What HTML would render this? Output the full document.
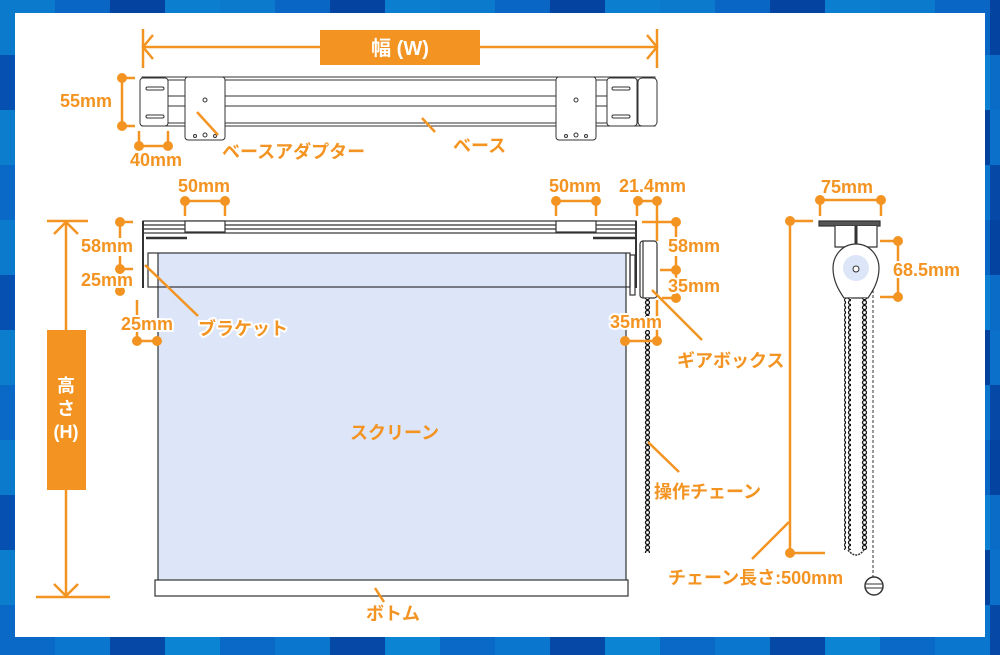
<!DOCTYPE html>
<html><head><meta charset="utf-8"><style>
html,body{margin:0;padding:0;width:1000px;height:655px;overflow:hidden}
svg{display:block}
text{font-family:"Liberation Sans","Noto Sans CJK JP",sans-serif;font-weight:bold;fill:#f39422;font-size:18px;stroke:#fff;stroke-width:4px;paint-order:stroke;stroke-linejoin:round}
</style></head><body>
<svg width="1000" height="655" viewBox="0 0 1000 655" xmlns="http://www.w3.org/2000/svg">
<defs>
<pattern id="tiles" width="220" height="220" patternUnits="userSpaceOnUse">
<rect width="220" height="220" fill="#0a62c2"/>
<rect x="0" y="0" width="55" height="55" fill="#0b79cc"/><rect x="55" y="0" width="55" height="55" fill="#0a66c4"/><rect x="110" y="0" width="55" height="55" fill="#0444a0"/><rect x="165" y="0" width="55" height="55" fill="#0c7ed0"/>
<rect x="0" y="55" width="55" height="55" fill="#0550b0"/><rect x="55" y="55" width="55" height="55" fill="#0c80d2"/><rect x="110" y="55" width="55" height="55" fill="#0b6cc8"/><rect x="165" y="55" width="55" height="55" fill="#03449e"/>
<rect x="0" y="110" width="55" height="55" fill="#0c7ccd"/><rect x="55" y="110" width="55" height="55" fill="#03429c"/><rect x="110" y="110" width="55" height="55" fill="#0a70ca"/><rect x="165" y="110" width="55" height="55" fill="#0a60c0"/>
<rect x="0" y="165" width="55" height="55" fill="#0a68c6"/><rect x="55" y="165" width="55" height="55" fill="#0b76cd"/><rect x="110" y="165" width="55" height="55" fill="#0548a6"/><rect x="165" y="165" width="55" height="55" fill="#0c84d4"/>
</pattern>
<pattern id="chain" width="7" height="5" patternUnits="userSpaceOnUse"><circle cx="3.5" cy="2.5" r="2" fill="#fff" stroke="#111" stroke-width="1.3"/></pattern>
</defs>
<rect width="1000" height="655" fill="url(#tiles)"/>
<rect x="15" y="13" width="970" height="624" fill="#fff"/>

<!-- top rail -->
<g stroke="#333" stroke-width="1" fill="#fff">
<rect x="142" y="77" width="513" height="49"/>
<line x1="142" y1="80" x2="655" y2="80"/><line x1="142" y1="96" x2="655" y2="96"/><line x1="142" y1="106" x2="655" y2="106"/><line x1="142" y1="123" x2="655" y2="123"/>
<rect x="140" y="78" width="28" height="48" rx="3"/>
<rect x="607" y="78" width="30" height="48" rx="3"/>
<rect x="638" y="78" width="19" height="48" rx="4"/>
<rect x="185" y="77" width="40" height="63" rx="3"/>
<rect x="556" y="77" width="40" height="63" rx="3"/>
<circle cx="205" cy="100" r="2"/><circle cx="576" cy="100" r="2"/>
<circle cx="195" cy="136" r="1.5"/><circle cx="205" cy="135" r="2"/><circle cx="215" cy="136" r="1.5"/>
<circle cx="566" cy="136" r="1.5"/><circle cx="576" cy="135" r="2"/><circle cx="586" cy="136" r="1.5"/>
<rect x="146" y="87" width="18" height="3" rx="1.5"/><rect x="146" y="115" width="18" height="3" rx="1.5"/>
<rect x="612" y="87" width="18" height="3" rx="1.5"/><rect x="612" y="115" width="18" height="3" rx="1.5"/>
</g>

<!-- main blind -->
<rect x="158" y="253" width="468" height="327" fill="#dde5f8"/>
<g stroke="#333" stroke-width="1.2" fill="none">
<rect x="143" y="221" width="493" height="12" fill="#fff"/>
<line x1="143" y1="225" x2="636" y2="225"/><line x1="143" y1="229" x2="636" y2="229"/>
<rect x="185" y="221" width="40" height="11" fill="#fff"/><rect x="556" y="221" width="40" height="11" fill="#fff"/>
<line x1="143" y1="221" x2="143" y2="288" stroke-width="2"/>
<line x1="146" y1="238" x2="187" y2="238" stroke-width="2.5"/><line x1="593" y1="238" x2="636" y2="238" stroke-width="2.5"/>
<line x1="636" y1="221" x2="636" y2="288" stroke-width="2"/>
<rect x="148" y="253" width="482" height="34"/>
<line x1="158" y1="253" x2="158" y2="580"/><line x1="626" y1="253" x2="626" y2="580"/>
<rect x="155" y="580" width="473" height="16" fill="#fff"/>
<rect x="640" y="241" width="17" height="57" rx="3" fill="#fff"/>
<line x1="643" y1="241" x2="643" y2="298"/>
<rect x="630" y="255" width="5" height="40"/>
</g>
<rect x="643" y="298" width="7" height="255" fill="url(#chain)"/>

<!-- side view -->
<g stroke="#333" stroke-width="1.2">
<rect x="819" y="221" width="61" height="5" fill="#555"/>
<path d="M835 226 V247 H877 V226" fill="#fff"/>
<line x1="856" y1="226" x2="856" y2="245" stroke-width="3"/>
<path d="M856 244 C842 244 833 256 833 268 C833 282 840 292 844 298 H868 C872 292 879 282 879 268 C879 256 870 244 856 244Z" fill="#fff"/>
<line x1="873" y1="290" x2="873" y2="578" stroke-dasharray="3,2" stroke-width="1"/>
<circle cx="874" cy="586" r="9" fill="#fff" stroke-width="1.5"/>
<line x1="866" y1="584" x2="882" y2="584" stroke-width="1"/><line x1="866" y1="588" x2="882" y2="588" stroke-width="1"/>
</g>
<circle cx="856" cy="268" r="13" fill="#dde5f8"/>
<circle cx="856" cy="269" r="3" fill="#fff" stroke="#333"/>
<rect x="844" y="298" width="7" height="252" fill="url(#chain)"/>
<rect x="860" y="298" width="7" height="252" fill="url(#chain)"/>
<path d="M848 550 Q856 560 864 550" fill="none" stroke="#333" stroke-width="1.5" stroke-dasharray="2,1"/>

<g stroke="#f39422" stroke-width="2.5" fill="none">
<line x1="143" y1="29" x2="143" y2="68"/><line x1="657" y1="29" x2="657" y2="68"/>
<line x1="143" y1="47" x2="657" y2="47"/>
<polyline points="153,35 143,47 153,59"/><polyline points="647,35 657,47 647,59"/>
<line x1="122" y1="78" x2="122" y2="126"/><line x1="122" y1="78" x2="135" y2="78"/><line x1="122" y1="126" x2="135" y2="126"/>
<line x1="139" y1="131" x2="139" y2="146"/><line x1="168" y1="131" x2="168" y2="146"/><line x1="139" y1="146" x2="168" y2="146"/>
<line x1="197" y1="112" x2="218" y2="135"/><line x1="422" y1="118" x2="435" y2="132"/>
<line x1="185" y1="201" x2="225" y2="201"/><line x1="185" y1="201" x2="185" y2="216"/><line x1="225" y1="201" x2="225" y2="216"/>
<line x1="556" y1="201" x2="596" y2="201"/><line x1="556" y1="201" x2="556" y2="216"/><line x1="596" y1="201" x2="596" y2="216"/>
<line x1="638" y1="201" x2="657" y2="201"/><line x1="637" y1="201" x2="637" y2="216"/><line x1="657" y1="201" x2="657" y2="241"/>
<line x1="120" y1="222" x2="133" y2="222"/><line x1="120" y1="222" x2="120" y2="238"/><line x1="120" y1="256" x2="120" y2="291"/>
<line x1="120" y1="269" x2="133" y2="269"/>
<line x1="137" y1="300" x2="137" y2="341"/><line x1="137" y1="341" x2="157" y2="341"/>
<line x1="145" y1="265" x2="198" y2="316"/>
<line x1="642" y1="222" x2="676" y2="222"/><line x1="676" y1="222" x2="676" y2="238"/><line x1="676" y1="256" x2="676" y2="298"/>
<line x1="660" y1="270" x2="676" y2="270"/><line x1="662" y1="298" x2="676" y2="298"/>
<line x1="625" y1="341" x2="657" y2="341"/><line x1="657" y1="300" x2="657" y2="341"/>
<line x1="652" y1="290" x2="702" y2="340"/>
<line x1="648" y1="442" x2="679" y2="472"/>
<line x1="375" y1="588" x2="384" y2="602"/>
<line x1="47" y1="221" x2="88" y2="221"/><line x1="36" y1="597" x2="110" y2="597"/>
<line x1="66" y1="221" x2="66" y2="597"/>
<polyline points="54,234 66,222 78,234"/><polyline points="54,584 66,596 78,584"/>
<line x1="820" y1="200" x2="881" y2="200"/><line x1="820" y1="200" x2="820" y2="216"/><line x1="881" y1="200" x2="881" y2="216"/>
<line x1="790" y1="221" x2="790" y2="553"/><line x1="790" y1="221" x2="813" y2="221"/><line x1="790" y1="553" x2="825" y2="553"/>
<line x1="752" y1="559" x2="789" y2="522"/>
<line x1="880" y1="241" x2="898" y2="241"/><line x1="880" y1="297" x2="898" y2="297"/><line x1="898" y1="241" x2="898" y2="297"/>
</g>
<g fill="#f39422">
<circle cx="122" cy="78" r="5"/><circle cx="122" cy="126" r="5"/><circle cx="139" cy="146" r="5"/><circle cx="168" cy="146" r="5"/>
<circle cx="185" cy="201" r="5"/><circle cx="225" cy="201" r="5"/><circle cx="556" cy="201" r="5"/><circle cx="596" cy="201" r="5"/>
<circle cx="638" cy="201" r="5"/><circle cx="657" cy="201" r="5"/>
<circle cx="120" cy="222" r="5"/><circle cx="120" cy="269" r="5"/><circle cx="120" cy="291" r="5"/>
<circle cx="137" cy="341" r="5"/><circle cx="157" cy="341" r="5"/>
<circle cx="676" cy="222" r="5"/><circle cx="676" cy="270" r="5"/><circle cx="676" cy="298" r="5"/>
<circle cx="625" cy="341" r="5"/><circle cx="657" cy="341" r="5"/>
<circle cx="820" cy="200" r="5"/><circle cx="881" cy="200" r="5"/><circle cx="790" cy="221" r="5"/><circle cx="790" cy="553" r="5"/>
<circle cx="898" cy="241" r="5"/><circle cx="898" cy="297" r="5"/>
<rect x="320" y="30" width="160" height="35"/>
<rect x="47" y="330" width="39" height="160"/>
</g>
<g style="stroke:none">
<text x="400" y="55" text-anchor="middle" style="fill:#fff;font-size:20px;stroke:none">幅 (W)</text>
<text x="66" y="392" text-anchor="middle" style="fill:#fff;font-size:18px;stroke:none">高</text>
<text x="66" y="415" text-anchor="middle" style="fill:#fff;font-size:18px;stroke:none">さ</text>
<text x="66" y="438" text-anchor="middle" style="fill:#fff;font-size:18px;stroke:none">(H)</text>
</g>

<text x="60" y="107">55mm</text>
<text x="130" y="166">40mm</text>
<text x="222" y="158" font-size="17">ベースアダプター</text>
<text x="453" y="152" font-size="17">ベース</text>
<text x="178" y="192">50mm</text>
<text x="549" y="192">50mm</text>
<text x="619" y="192">21.4mm</text>
<text x="81" y="252">58mm</text>
<text x="81" y="286">25mm</text>
<text x="121" y="330">25mm</text>
<text x="198" y="335" font-size="17">ブラケット</text>
<text x="668" y="252">58mm</text>
<text x="668" y="292">35mm</text>
<text x="610" y="328">35mm</text>
<text x="677" y="367" font-size="17">ギアボックス</text>
<text x="654" y="498" font-size="17">操作チェーン</text>
<text x="350" y="439" font-size="17" style="stroke:none">スクリーン</text>
<text x="366" y="620" font-size="17">ボトム</text>
<text x="821" y="193">75mm</text>
<text x="893" y="276">68.5mm</text>
<text x="668" y="584" font-size="17">チェーン長さ:500mm</text>
</svg>
</body></html>
